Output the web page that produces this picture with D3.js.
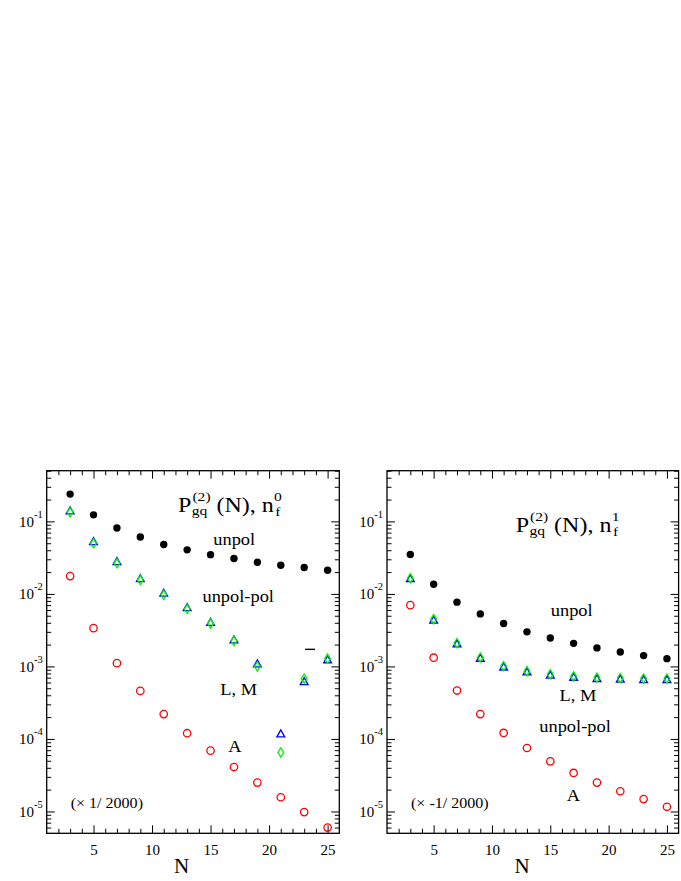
<!DOCTYPE html>
<html lang="en">
<head>
<meta charset="UTF-8">
<title>P_gq^(2)(N)</title>
<script src="https://d3js.org/d3.v7.min.js"></script>
<style>
body { margin: 0; background: #fff; }
text { font-family: "Liberation Serif", "Times New Roman", serif; fill: #000; }
</style>
</head>
<body>
<script>

// Mellin moments N
var nValues = [3, 5, 7, 9, 11, 13, 15, 17, 19, 21, 23, 25];

// n_f^0 panel
var unpol0 = [0.238, 0.123, 0.081, 0.061, 0.048, 0.0405, 0.0348, 0.0308, 0.0273, 0.0248, 0.0231, 0.0212];
var tri0   = [0.138, 0.052, 0.0275, 0.016, 0.0101, 0.0064, 0.0040, 0.0023, 0.00107, 1.16e-4, 6.1e-4, 1.22e-3];
var dia0   = [0.134, 0.050, 0.0265, 0.0156, 0.0097, 0.0062, 0.0039, 0.00225, 0.00100, 6.5e-5, 6.8e-4, 1.28e-3];
var circ0  = [0.0176, 3.37e-3, 1.11e-3, 4.6e-4, 2.2e-4, 1.2e-4, 6.9e-5, 4.1e-5, 2.5e-5, 1.57e-5, 9.8e-6, 6.0e-6];

// n_f^1 panel
var unpol1 = [0.035, 0.0136, 0.0077, 0.0053, 0.0039, 0.0030, 0.00247, 0.00208, 0.0018, 0.00158, 0.00141, 0.00128];
var tri1   = [0.0160, 0.0043, 0.00202, 0.00128, 0.00097, 0.00083, 0.00075, 0.00070, 0.00067, 0.00066, 0.00065, 0.00065];
var dia1   = [0.0165, 0.0045, 0.0021, 0.00133, 0.00101, 0.00086, 0.00078, 0.00073, 0.00070, 0.00069, 0.00068, 0.00068];
var circ1  = [0.0070, 0.00132, 0.000465, 0.00022, 0.000121, 7.5e-5, 4.9e-5, 3.4e-5, 2.5e-5, 1.9e-5, 1.48e-5, 1.16e-5];

var xMajor = [5, 10, 15, 20, 25];
var yMajor = [1e-5, 1e-4, 1e-3, 1e-2, 1e-1];

var W = 681, H = 881;
var top_ = 470.7, bottom = 833.3;

var svg = d3.select("body").append("svg")
    .attr("width", W)
    .attr("height", H);

svg.append("rect").attr("width", W).attr("height", H).attr("fill", "#fff");

var xMinor = d3.range(2, 26).filter(function(n) { return n % 5 !== 0; });
var yMinor = [];
for (var e = -6; e <= -1; e++) {
    for (var k = 2; k <= 9; k++) {
        var v = k * Math.pow(10, e);
        if (v >= 5e-6 && v <= 0.5) yMinor.push(v);
    }
}

var triangle = { draw: function(c) { c.moveTo(0, -4.4); c.lineTo(3.9, 2.6); c.lineTo(-3.9, 2.6); c.closePath(); } };
var diamond  = { draw: function(c) { c.moveTo(0, -4.6); c.lineTo(2.9, 0); c.lineTo(0, 4.6); c.lineTo(-2.9, 0); c.closePath(); } };

var panels = [
    { left: 46.7, right: 339.3, unpol: unpol0, tri: tri0, dia: dia0, circ: circ0,
      nf: "0", titleX: 131.3, titleY: 511.5, note: "(\u00d7 1/ 2000)",
      labels: [["unpol", 187.5, 544.5], ["unpol-pol", 191.5, 601.5], ["L, M", 192, 695], ["A", 188.3, 752]],
      dash: [23.5, 1.72e-3] },
    { left: 387, right: 678.6, unpol: unpol1, tri: tri1, dia: dia1, circ: circ1,
      nf: "1", titleX: 128.7, titleY: 531.5, note: "(\u00d7 -1/ 2000)",
      labels: [["unpol", 184.7, 616], ["L, M", 191, 701], ["unpol-pol", 188, 732], ["A", 186.3, 800.5]],
      dash: null }
];

// text that is a little wider than Times at this size
function wide(g, x, y, sx) {
    return g.append("g").attr("transform", "translate(" + x + "," + y + ") scale(" + sx + ",1)");
}

panels.forEach(function(p) {
    var g = svg.append("g");
    var x = d3.scaleLinear().domain([1, 26]).range([p.left, p.right]);
    var y = d3.scaleLog().domain([5e-6, 0.5]).range([bottom, top_]);

    function clean(a) {
        a.select(".domain").remove();
        a.attr("font-family", null).attr("font-size", null);
        a.selectAll(".tick line").attr("stroke-width", 1);
    }

    // bottom axis with labels
    g.append("g").attr("transform", "translate(0," + bottom + ")")
        .call(d3.axisBottom(x).tickValues(xMajor).tickSize(-8).tickPadding(11))
        .call(clean)
        .selectAll("text").attr("font-size", 15);
    g.append("g").attr("transform", "translate(0," + bottom + ")")
        .call(d3.axisBottom(x).tickValues(xMinor).tickSize(-4.5).tickFormat(""))
        .call(clean);
    // top axis
    g.append("g").attr("transform", "translate(0," + top_ + ")")
        .call(d3.axisTop(x).tickValues(xMajor).tickSize(-8).tickFormat(""))
        .call(clean);
    g.append("g").attr("transform", "translate(0," + top_ + ")")
        .call(d3.axisTop(x).tickValues(xMinor).tickSize(-4.5).tickFormat(""))
        .call(clean);

    // left axis with 10^n labels
    var yl = g.append("g").attr("transform", "translate(" + p.left + ",0)")
        .call(d3.axisLeft(y).tickValues(yMajor).tickSize(-8).tickPadding(4).tickFormat(""))
        .call(clean);
    yl.selectAll(".tick text").attr("font-size", 15).each(function(d) {
        var t = d3.select(this);
        t.append("tspan").text("10");
        t.append("tspan").attr("dy", -9).attr("font-size", 10.5).text(Math.round(Math.log10(d)));
    });
    g.append("g").attr("transform", "translate(" + p.left + ",0)")
        .call(d3.axisLeft(y).tickValues(yMinor).tickSize(-4.5).tickFormat(""))
        .call(clean);
    // right axis
    g.append("g").attr("transform", "translate(" + p.right + ",0)")
        .call(d3.axisRight(y).tickValues(yMajor).tickSize(-8).tickFormat(""))
        .call(clean);
    g.append("g").attr("transform", "translate(" + p.right + ",0)")
        .call(d3.axisRight(y).tickValues(yMinor).tickSize(-4.5).tickFormat(""))
        .call(clean);

    // frame
    g.append("rect")
        .attr("x", p.left).attr("y", top_)
        .attr("width", p.right - p.left).attr("height", bottom - top_)
        .attr("fill", "none").attr("stroke", "#000").attr("stroke-width", 1.3);

    // markers
    g.selectAll("circle.unpol").data(p.unpol).enter().append("circle")
        .attr("class", "unpol")
        .attr("cx", function(d, i) { return x(nValues[i]); })
        .attr("cy", function(d) { return y(d); })
        .attr("r", 3.7)
        .attr("fill", "#000");

    g.selectAll("path.tri").data(p.tri).enter().append("path")
        .attr("class", "tri")
        .attr("d", d3.symbol(triangle))
        .attr("transform", function(d, i) { return "translate(" + x(nValues[i]) + "," + y(d) + ")"; })
        .attr("fill", "none").attr("stroke", "#0000ff").attr("stroke-width", 1.3);

    g.selectAll("path.dia").data(p.dia).enter().append("path")
        .attr("class", "dia")
        .attr("d", d3.symbol(diamond))
        .attr("transform", function(d, i) { return "translate(" + x(nValues[i]) + "," + y(d) + ")"; })
        .attr("fill", "none").attr("stroke", "#00f000").attr("stroke-width", 1.3);

    g.selectAll("circle.circ").data(p.circ).enter().append("circle")
        .attr("class", "circ")
        .attr("cx", function(d, i) { return x(nValues[i]); })
        .attr("cy", function(d) { return y(d); })
        .attr("r", 3.7)
        .attr("fill", "none").attr("stroke", "#ff0000").attr("stroke-width", 1.3);

    if (p.dash) {
        g.append("line")
            .attr("x1", x(p.dash[0]) - 5).attr("x2", x(p.dash[0]) + 5)
            .attr("y1", y(p.dash[1])).attr("y2", y(p.dash[1]))
            .attr("stroke", "#000").attr("stroke-width", 1.4);
    }

    // title P_gq^(2) (N), n_f^k
    var t = wide(g, p.left + p.titleX, p.titleY, 1.2);
    t.append("text").attr("x", 0).attr("y", 0).attr("font-size", 20).text("P");
    t.append("text").attr("x", 11.5).attr("y", 3.5).attr("font-size", 13).text("gq");
    t.append("text").attr("x", 12).attr("y", -10.5).attr("font-size", 13).text("(2)");
    t.append("text").attr("x", 32).attr("y", 0).attr("font-size", 20).text("(N), n");
    t.append("text").attr("x", 81).attr("y", 4.5).attr("font-size", 13).text("f");
    t.append("text").attr("x", 80).attr("y", -11).attr("font-size", 13).text(p.nf);

    // curve labels
    p.labels.forEach(function(l) {
        wide(g, p.left + l[1], l[2], 1.15).append("text")
            .attr("text-anchor", "middle").attr("font-size", 16).text(l[0]);
    });

    wide(g, p.left + 24, 808, 1.07).append("text")
        .attr("font-size", 15).text(p.note);

    // x axis title
    g.append("text").attr("x", p.left + 135).attr("y", 873)
        .attr("text-anchor", "middle").attr("font-size", 21).text("N");
});

</script>
</body>
</html>
